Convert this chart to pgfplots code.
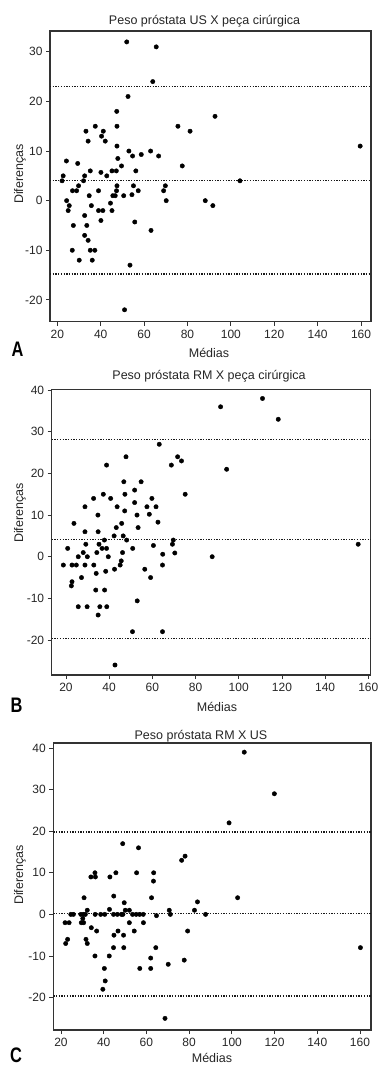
\documentclass[border=0pt]{standalone}
\usepackage{fontspec}
\setmainfont{Liberation Sans}
\usepackage{pgfplots}
\pgfplotsset{compat=1.18}
\usepackage{pgfplotstable}

\pgfplotstableread{
x y
52 32
65.6 31
64 24
52.6 21
47.4 18
47.5 15
37.5 15
75.6 15
33.2 14
41.2 14
81.2 14
40.4 13
34.2 12
42.1 12
92.7 17
159.6 11
47.5 11
53 10
54.7 9
58.7 9.3
63 10
66.7 9
47.9 8.5
49.6 7
77.6 7
24.2 8
29.4 7.5
35.2 6
40.1 5.7
45.2 6
47.2 6
56.2 6
42.8 5
32.6 5
22.7 5
104.2 4
22.2 4
32.1 4
24.3 0
25.5 -1
25 -2
27 2
28.9 2
29.8 3
27.4 -5
26.9 -10
30.1 -12
32.6 -3
32.6 -7
33.6 -5
34.2 -8
34.7 1
35.7 -1
35.2 -10
37.3 -10
36.1 -12
39 2
39 -2
41 -2
40.1 -4
44.5 -0.5
45.2 -2
45.6 1
46.7 1
47.3 2
47.5 3
50.6 1
54.4 1.2
55.1 3
57.3 2
55.7 -4.3
53.5 -13
51 -22
63.2 -6
69 2
69.8 3
70.2 0
88.2 0
91.7 -1
}\dataA

\pgfplotstableread{
x y
91.6 36
111 38
118.3 33
63.2 27
94.4 21
68.8 22
71.7 24
73.5 23
75.2 15
47.8 24
38.8 22
46.8 18
54.8 18
51.8 16
47.3 15
37.3 15
32.8 14
40.7 14
59.8 14
28.8 12
43.7 12
51.8 13
57.5 12
61.7 12
47.2 11
34.8 10
52.9 10
58.6 10.2
62.6 8.3
23.7 8
43.3 7
45.8 8
53.4 7
28.8 6
34.9 6
42.3 5
46.5 5
48.1 4
37.8 4
20.8 2
29.2 3
35.3 3
36.7 2
38.8 2
50.9 2
60.5 2.7
69.3 3
69.7 4
70.4 0.9
64.8 0.6
28 1
34.3 1
46.2 1
155.3 3
87.7 0
18.8 -2
22.8 -2
24.8 -2
25.7 0
29.9 0
28.8 -2
32.9 -2
39.6 0
38.4 -3.5
34 -4
27.2 -5
22.8 -6
22.5 -7
42.5 -3
45.1 -2
45.6 -1
56.5 -3
59.2 -5
64.7 -2
33.8 -8
37.9 -8
25.7 -12
29.8 -12
35.7 -12
38.9 -12
34.9 -14
53 -10.6
50.8 -18
64.7 -18
42.7 -26
}\dataB

\pgfplotstableread{
x y
105.8 39
119.9 29
98.7 22
48.9 17
56.3 16
76.5 13
78.1 14
34 9
36.1 9
35.9 10
42.9 9
45.7 10
55.4 10
63.4 10
63.3 8
30.8 4
62.4 4
44.7 4.4
42.7 1.2
49.6 2.8
102.7 4
83.9 3
82.5 1
87.7 0
70.7 1
71.2 0
64.7 -0.3
21.9 -2
23.8 -2
22.2 -7
23.1 -6
24.6 0
25.8 0
29.3 0
30.5 0
31.4 0
29.5 -2
30.6 -2
30.2 -1
31.7 -6
32.3 -7
32.3 1
34.2 -3.2
36.7 -4
36 0
38.6 0
40.5 0
35.9 -10
40.3 -13
40.7 -16
39.6 -18
42.6 -10
44.6 0
46.4 0
48.3 0
49 0
44.8 -5
46.7 -4
44.6 -8
49.3 -5
49.4 -8
50.1 1
52 1
52 -2
53.5 0
55.2 0
56.8 0
58.5 0
54.3 -4
56.9 -13
58.6 -2
62 -13
62 -10.5
64.4 -8
70.2 -12
68.7 -25
77.7 -11
79.3 -4
160.2 -8
}\dataC

\pgfplotsset{
  baplot/.style={
    scale only axis,
    anchor=south west,
    axis line style={line width=1.1pt, draw=black!80},
    tick align=outside,
    xtick pos=bottom, ytick pos=left,
    major tick length=4pt,
    tick style={line width=0.8pt, draw=black!80},
    ticklabel style={font=\fontsize{12}{14}\selectfont, text=black!85},
    xticklabel style={yshift=-1pt},
    xtick={20,40,60,80,100,120,140,160},
    xticklabels={20,40,60,80,100,120,140,160},
  },
  pts/.style={only marks, mark=*, mark size=2.2pt, black},
  loa/.style={line width=1.3pt, black!90, dash pattern=on 1.3pt off 1.4pt},
}

\begin{document}
\begin{tikzpicture}
\path[use as bounding box] (0pt,0pt) rectangle (378pt,-1065pt);

% Panel A
\begin{axis}[baplot, at={(50pt,-321.7pt)}, width=321pt, height=290.7pt,
  xmin=16.63, xmax=164.6, ymin=-24.4, ymax=34.2,
  ytick={-20,-10,0,10,20,30}, yticklabels={-20,-10,0,10,20,30}]
\addplot[pts] table {\dataA};
\addplot[loa] coordinates {(16.63,23) (164.6,23)};
\addplot[loa] coordinates {(16.63,4) (164.6,4)};
\addplot[loa] coordinates {(16.63,-14.8) (164.6,-14.8)};
\end{axis}

% Panel B
\begin{axis}[baplot, at={(51.7pt,-675pt)}, width=319pt, height=285.7pt,
  xmin=13.4, xmax=161.1, ymin=-28.4, ymax=40.2,
  ytick={-20,-10,0,10,20,30,40}, yticklabels={-20,-10,0,10,20,30,40}]
\addplot[pts] table {\dataB};
\addplot[loa] coordinates {(13.4,28.2) (161.1,28.2)};
\addplot[loa] coordinates {(13.4,4.2) (161.1,4.2)};
\addplot[loa] coordinates {(13.4,-19.6) (161.1,-19.6)};
\end{axis}

% Panel C
\begin{axis}[baplot, at={(53.3pt,-1030pt)}, width=317.7pt, height=287pt,
  xmin=16.4, xmax=165.15, ymin=-27.8, ymax=41.2,
  ytick={-20,-10,0,10,20,30,40}, yticklabels={-20,-10,0,10,20,30,40}]
\addplot[pts] table {\dataC};
\addplot[loa] coordinates {(16.4,19.8) (165.15,19.8)};
\addplot[loa] coordinates {(16.4,0.25) (165.15,0.25)};
\addplot[loa] coordinates {(16.4,-19.6) (165.15,-19.6)};
\end{axis}

\begin{scope}[every node/.style={font=\fontsize{12.5}{14}\selectfont, text=black!85, inner sep=0pt}]
\node at (204.5pt,-21pt) {Peso próstata US X peça cirúrgica};
\node at (209pt,-376.7pt) {Peso próstata RM X peça cirúrgica};
\node at (201pt,-736.5pt) {Peso próstata RM X US};
\node at (209pt,-352.7pt) {Médias};
\node at (217pt,-706.7pt) {Médias};
\node at (212pt,-1057.5pt) {Médias};
\node[rotate=90] at (20pt,-174pt) {Diferenças};
\node[rotate=90] at (20pt,-513pt) {Diferenças};
\node[rotate=90] at (20pt,-875pt) {Diferenças};
\end{scope}
\begin{scope}[every node/.style={font=\fontsize{21}{22}\selectfont\bfseries, inner sep=0pt, xscale=0.78}]
\node at (17.5pt,-349.5pt) {A};
\node at (16.5pt,-705pt) {B};
\node at (16pt,-1055pt) {C};
\end{scope}
\end{tikzpicture}
\end{document}
